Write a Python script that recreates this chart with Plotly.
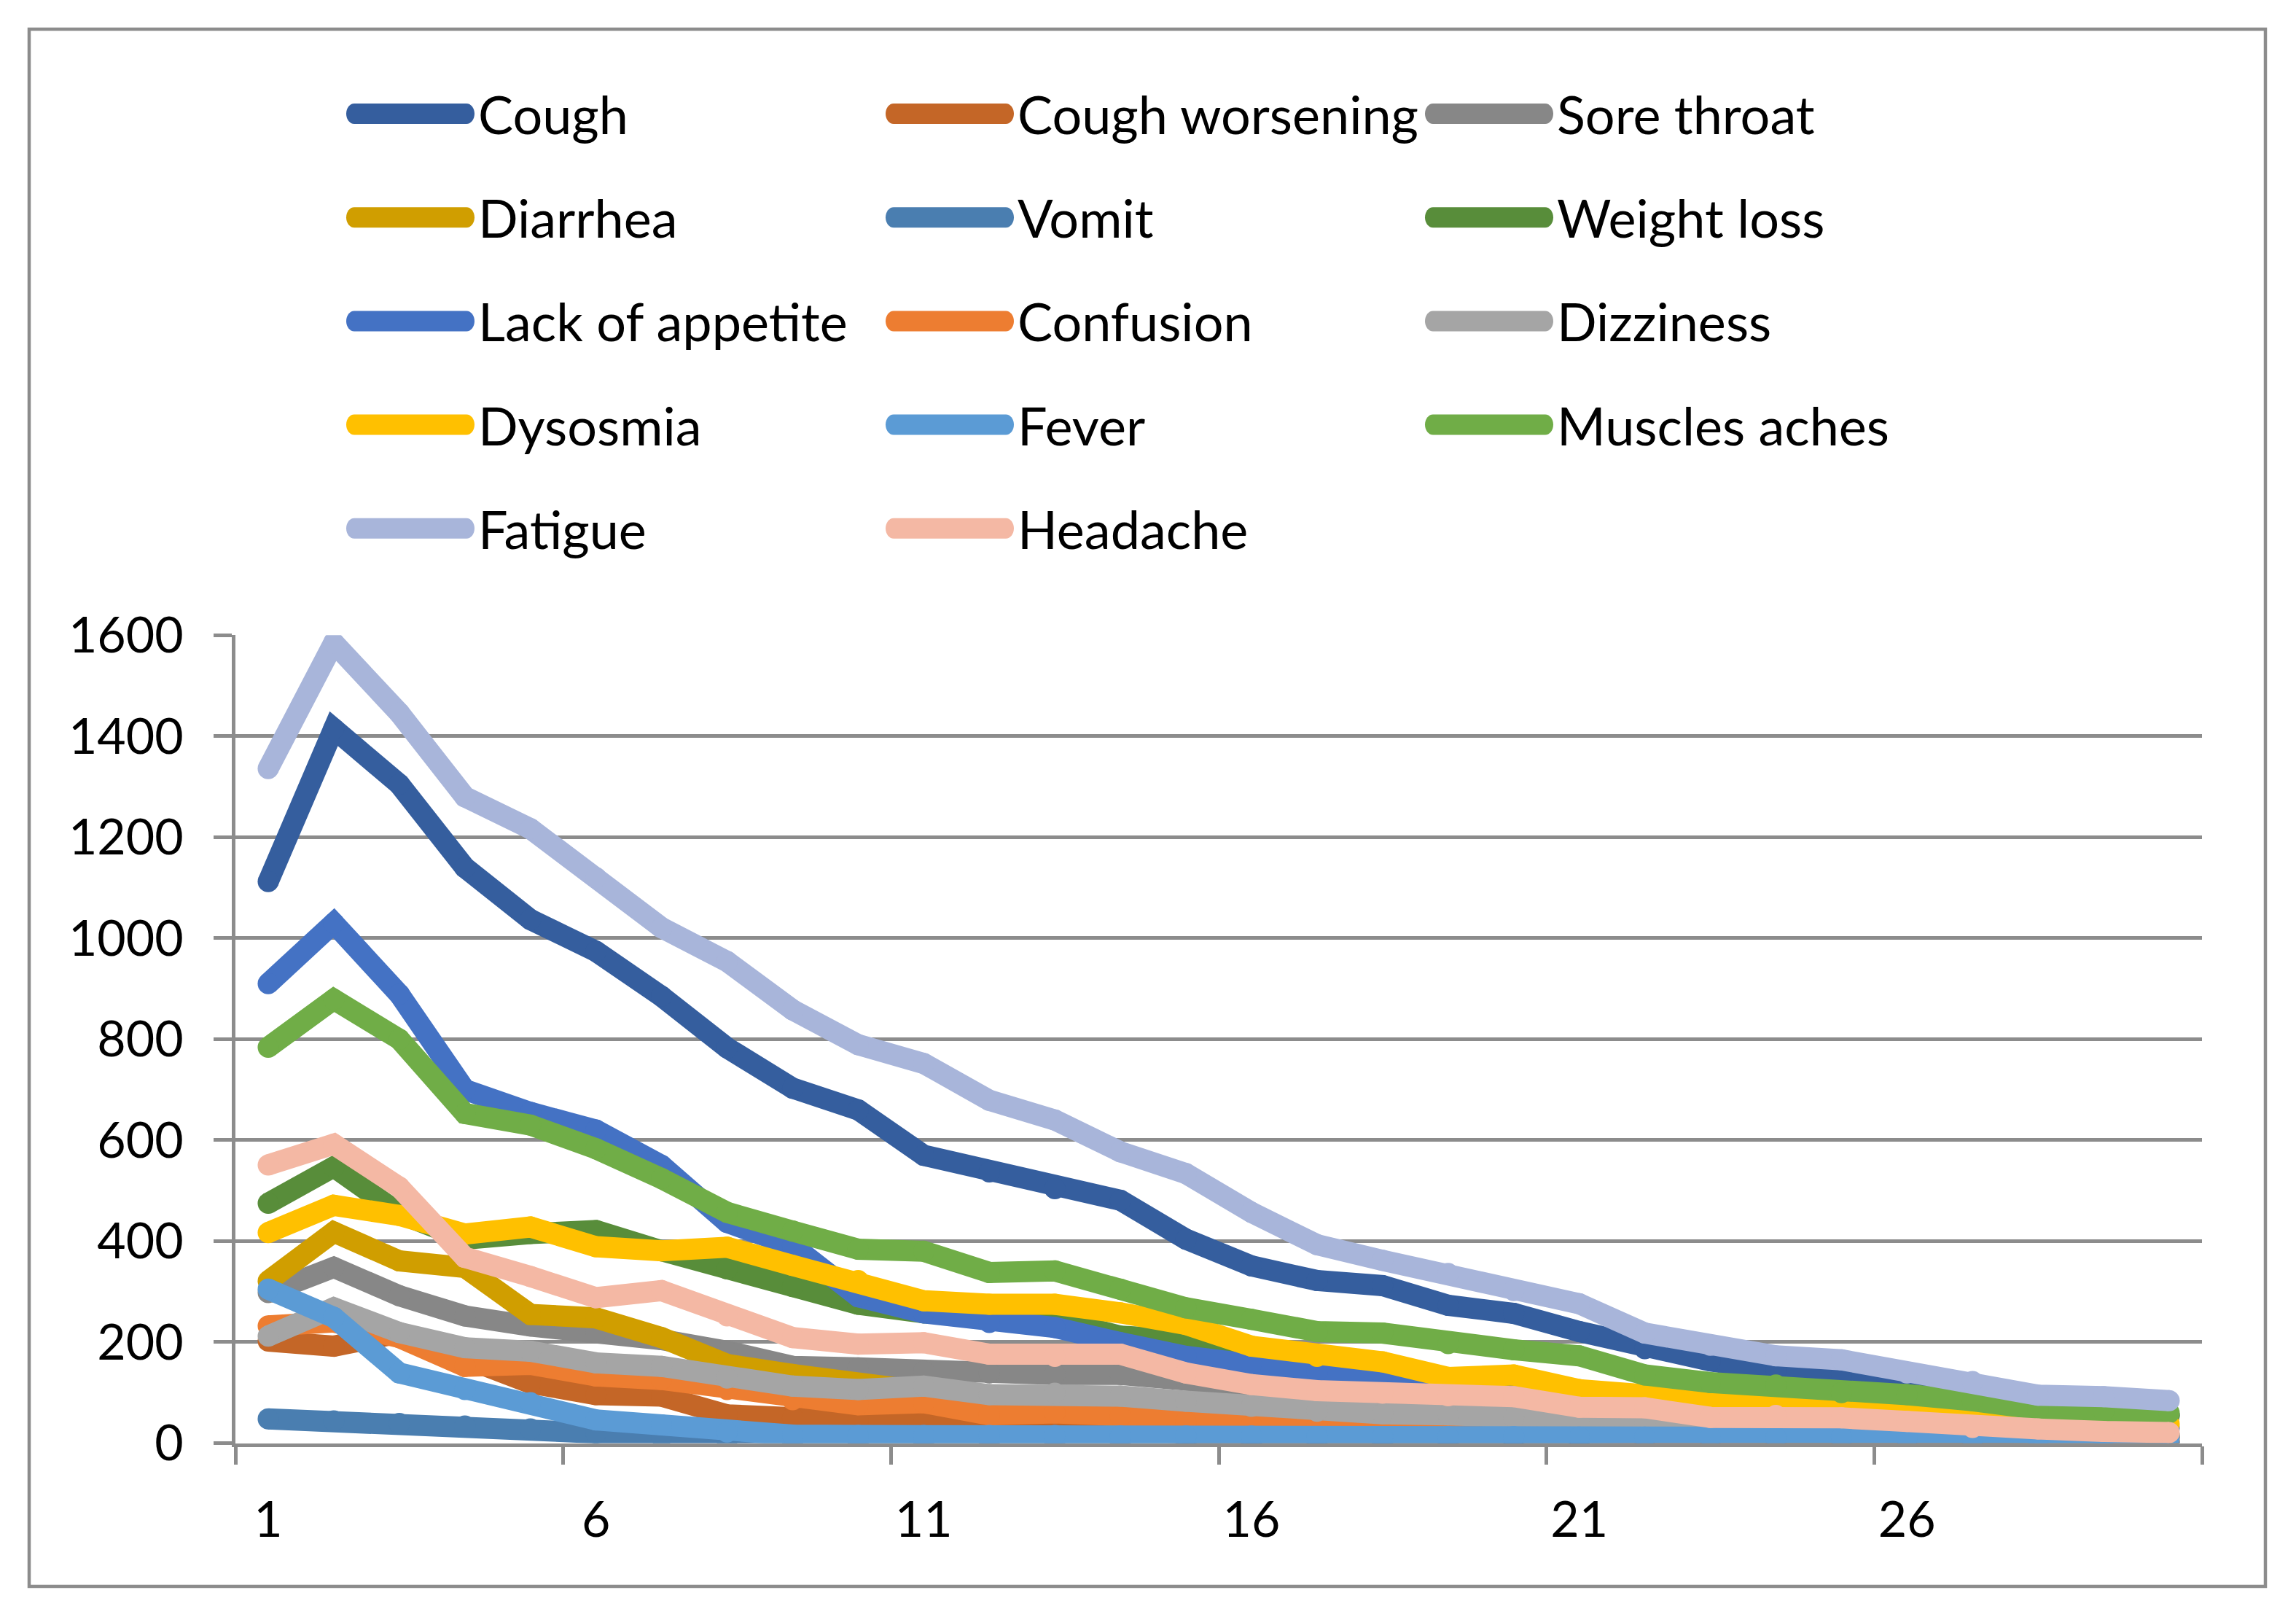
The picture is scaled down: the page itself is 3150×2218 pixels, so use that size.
import plotly.graph_objects as go

# ---------------- data ----------------
days = list(range(1, 31))
tick_days = [1, 6, 11, 16, 21, 26]

names = ["Cough", "Cough worsening", "Sore throat", "Diarrhea", "Vomit", "Weight loss",
         "Lack of appetite", "Confusion", "Dizziness", "Dysosmia", "Fever", "Muscles aches",
         "Fatigue", "Headache"]

cough = [1112, 1415, 1305, 1140, 1037, 974, 885, 783, 703, 660, 570, 537, 504, 481, 404,
         351, 322, 312, 273, 257, 221, 187, 163, 144, 137, 128, 100, 75, 62, 55]
cough_worsening = [202, 192, 218, 172, 119, 96, 93, 56, 50, 46, 40, 33, 43, 26, 20,
                   18, 15, 13, 12, 10, 10, 8, 8, 6, 5, 5, 4, 4, 3, 3]
sore_throat = [298, 348, 292, 252, 232, 219, 205, 182, 152, 149, 142, 139, 136, 136, 125,
               100, 80, 70, 62, 55, 45, 38, 32, 28, 25, 22, 20, 18, 16, 15]
diarrhea = [321, 418, 361, 348, 255, 248, 209, 156, 136, 118, 100, 85, 62, 52, 46,
            42, 38, 35, 33, 30, 28, 25, 22, 20, 18, 16, 15, 14, 13, 12]
vomit = [48, 44, 39, 34, 28, 20, 12, 6, 4, 3, 3, 3, 3, 3, 3,
         2, 2, 2, 2, 2, 2, 2, 1, 1, 1, 1, 1, 1, 1, 1]
weight_loss = [475, 547, 455, 404, 415, 421, 381, 345, 310, 275, 258, 252, 245, 212, 205,
               168, 140, 130, 115, 105, 95, 85, 75, 70, 65, 60, 58, 56, 55, 55]
lack_of_appetite = [910, 1030, 889, 700, 655, 620, 550, 437, 391, 290, 258, 239, 229, 199, 172,
                    156, 141, 135, 115, 100, 88, 78, 68, 60, 54, 48, 42, 38, 34, 30]
confusion = [232, 240, 209, 152, 156, 133, 126, 106, 86, 76, 80, 56, 60, 53, 43,
             36, 34, 32, 34, 25, 22, 20, 18, 16, 15, 14, 13, 12, 11, 10]
dizziness = [212, 268, 219, 189, 182, 159, 152, 129, 113, 106, 113, 96, 99, 93, 83,
             73, 63, 58, 56, 51, 39, 39, 29, 32, 29, 25, 22, 20, 18, 16]
dysosmia = [417, 471, 451, 414, 428, 389, 381, 388, 352, 322, 282, 275, 275, 258, 235,
            192, 172, 161, 130, 135, 106, 96, 82, 70, 58, 50, 45, 42, 40, 38]
fever = [305, 249, 139, 106, 80, 46, 36, 22, 16, 15, 15, 15, 15, 14, 14,
         14, 13, 13, 13, 13, 12, 12, 12, 11, 11, 10, 10, 10, 10, 10]
muscles_aches = [784, 879, 800, 653, 630, 583, 524, 457, 420, 384, 380, 338, 341, 305, 268,
                 245, 221, 218, 197, 185, 173, 135, 120, 115, 100, 96, 84, 67, 64, 60]
fatigue = [1336, 1585, 1446, 1280, 1217, 1120, 1021, 954, 858, 789, 752, 679, 640, 577, 534,
           457, 393, 362, 336, 302, 276, 218, 194, 173, 165, 139, 122, 95, 92, 84]
headache = [551, 592, 507, 368, 330, 288, 302, 252, 209, 196, 199, 176, 172, 176, 139,
            116, 104, 99, 94, 92, 71, 70, 51, 55, 50, 43, 31, 28, 23, 21]

series = [cough, cough_worsening, sore_throat, diarrhea, vomit, weight_loss,
          lack_of_appetite, confusion, dizziness, dysosmia, fever, muscles_aches,
          fatigue, headache]

colors = ["#355E9E", "#C46627", "#878787", "#D09E00", "#4A7EB0", "#588D3A",
          "#4472C4", "#ED7D31", "#A5A5A5", "#FFC000", "#5B9BD5", "#70AD47",
          "#A8B5DA", "#F4B8A4"]

# ---------------- style ----------------
W, H = 3150, 2218
GRID = "#8C8C8C"
TICKFONT = dict(family="Lato", size=68, color="black")
LEGFONT = dict(family="Lato", size=72, color="black")
LW = 29

fig = go.Figure()
for name, vals, col in zip(names, series, colors):
    fig.add_trace(go.Scatter(
        x=days, y=vals, name=name, mode="lines+markers",
        line=dict(color=col, width=LW),
        marker=dict(size=LW, color=col, line=dict(width=0)),
        showlegend=False,
    ))

# ---------------- custom legend (3 columns) ----------------
col_x = [475, 1215, 1955]
row_y0, row_dy = 156, 142.2
sym_len, rx, ry = 176, 11, 14
k = 0.5523

def P(px, py):
    return f"{px / W:.6f},{1 - py / H:.6f}"

shapes = []
annotations = []
for i, (name, col) in enumerate(zip(names, colors)):
    r, c = divmod(i, 3)
    x0 = col_x[c]
    x1 = x0 + sym_len
    yc = row_y0 + r * row_dy
    a0, a1 = x0 + rx, x1 - rx
    path = (
        f"M{P(a0, yc - ry)} L{P(a1, yc - ry)} "
        f"C{P(a1 + k * rx, yc - ry)} {P(x1, yc - k * ry)} {P(x1, yc)} "
        f"C{P(x1, yc + k * ry)} {P(a1 + k * rx, yc + ry)} {P(a1, yc + ry)} "
        f"L{P(a0, yc + ry)} "
        f"C{P(a0 - k * rx, yc + ry)} {P(x0, yc + k * ry)} {P(x0, yc)} "
        f"C{P(x0, yc - k * ry)} {P(a0 - k * rx, yc - ry)} {P(a0, yc - ry)} Z"
    )
    shapes.append(dict(type="path", path=path, xref="paper", yref="paper",
                       fillcolor=col, line=dict(width=0), layer="above"))
    annotations.append(dict(text=name, x=(x1 + 4) / W, y=1 - yc / H,
                            xref="paper", yref="paper", xanchor="left", yanchor="middle",
                            showarrow=False, font=LEGFONT, borderpad=0))

# outer chart border
shapes.append(dict(type="rect", xref="paper", yref="paper",
                   x0=40 / W, x1=3108 / W, y0=1 - 2176 / H, y1=1 - 40 / H,
                   line=dict(color=GRID, width=4.5), fillcolor="rgba(0,0,0,0)", layer="below"))

boundaries = [d - 0.5 for d in tick_days] + [days[-1] + 0.5]

fig.update_layout(
    width=W, height=H,
    margin=dict(l=0, r=0, t=0, b=0, pad=0, autoexpand=False),
    paper_bgcolor="white", plot_bgcolor="white",
    showlegend=False,
    shapes=shapes, annotations=annotations,
    xaxis=dict(
        domain=[323 / W, 3021 / W],
        range=[0.5, 30.5], automargin=False,
        tickmode="array", tickvals=tick_days, ticktext=[str(d) for d in tick_days],
        ticks="outside", ticklen=25, tickwidth=4.5, tickcolor="rgba(0,0,0,0)",
        showline=True, linecolor=GRID, linewidth=4.5,
        showgrid=False, zeroline=False,
        tickfont=TICKFONT, ticklabelstandoff=17,
        minor=dict(tickmode="array", tickvals=boundaries, ticks="outside",
                   ticklen=25, tickwidth=4.5, tickcolor=GRID, showgrid=False),
    ),
    yaxis=dict(
        domain=[1 - 1979.5 / H, 1 - 871.4 / H],
        range=[0, 1600], tickmode="linear", tick0=0, dtick=200, automargin=False,
        ticks="outside", ticklen=25, tickwidth=4.5, tickcolor=GRID,
        showline=True, linecolor=GRID, linewidth=4.5,
        showgrid=True, gridcolor=GRID, gridwidth=4.5, zeroline=False,
        tickfont=TICKFONT, ticklabelstandoff=28,
    ),
)

fig.write_html("out.html", config={"displayModeBar": False},
               post_script="document.body.style.margin='0';document.body.style.overflow='hidden';")
